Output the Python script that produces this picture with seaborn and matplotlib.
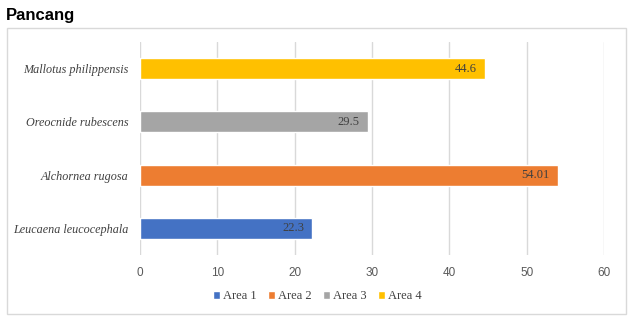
import matplotlib
matplotlib.use("Agg")
import matplotlib.pyplot as plt
import matplotlib.patches as mpatches
import seaborn as sns
import pandas as pd

species = ["Mallotus philippensis", "Oreocnide rubescens", "Alchornea rugosa", "Leucaena leucocephala"]
areas = ["Area 4", "Area 3", "Area 2", "Area 1"]
values = [44.6, 29.5, 54.01, 22.3]
value_labels = ["44.6", "29.5", "54.01", "22.3"]
area_order = ["Area 1", "Area 2", "Area 3", "Area 4"]
area_colors = ["#4472C4", "#ED7D31", "#A5A5A5", "#FFC000"]
x_ticks = [0, 10, 20, 30, 40, 50, 60]

df = pd.DataFrame({"species": species, "area": areas, "value": values})

sns.set_theme(style="white")
plt.rcParams["font.family"] = ["Liberation Serif", "DejaVu Serif"]

fig = plt.figure(figsize=(6.35, 3.28), dpi=100)
ax = fig.add_axes([140/635, 1-255/328, 464/635, 213/328])

sns.barplot(data=df, x="value", y="species", hue="area", hue_order=area_order,
            palette=area_colors, dodge=False, width=0.39, order=species,
            orient="h", ax=ax, saturation=1)

ax.set_xlim(0, 60)
ax.set_xticks(x_ticks)
ax.set_xticklabels([str(t) for t in x_ticks], fontfamily="Liberation Sans",
                   fontsize=8.5, color="#595959")
ax.set_xlabel("")
ax.set_ylabel("")
ax.grid(axis="x", color="#D9D9D9", linewidth=1)
ax.grid(axis="y", visible=False)
ax.set_axisbelow(True)
for s in ax.spines.values():
    s.set_visible(False)
ax.tick_params(axis="x", length=0, pad=9)
ax.tick_params(axis="y", length=0, pad=8)
for lbl in ax.get_yticklabels():
    lbl.set_fontstyle("italic")
    lbl.set_fontsize(8.7)
    lbl.set_color("#404040")
    lbl.set_fontfamily(["Liberation Serif"])

for cont in ax.containers:
    for p in cont.patches:
        w = p.get_width()
        if w is None or w != w or w == 0:
            continue
        yc = p.get_y() + p.get_height() / 2
        idx = [i for i, v in enumerate(values) if abs(v - w) < 1e-9]
        if not idx:
            continue
        ax.annotate(value_labels[idx[0]], xy=(w, yc), xytext=(-6, 0),
                    textcoords="offset points", ha="right", va="center",
                    fontsize=9, color="#404040", fontfamily="Liberation Serif")

handles, labels = ax.get_legend_handles_labels()
if ax.get_legend() is not None:
    ax.get_legend().remove()
fig.legend(handles, labels, loc="center", bbox_to_anchor=(317/635, 1-296/328),
           ncol=4, frameon=False, handlelength=0.6, handleheight=0.6,
           handletextpad=0.2, columnspacing=0.9,
           prop={"family": "Liberation Serif", "size": 9}, labelcolor="#404040")

fig.patches.append(mpatches.Rectangle((7/635, 1-314/328), 619/635, 286/328,
                                      transform=fig.transFigure, fill=False,
                                      edgecolor="#D9D9D9", linewidth=1))

fig.text(6/635, 1-20/328, "Pancang", fontfamily="Liberation Sans",
         fontweight="bold", fontsize=12, color="black", va="baseline", ha="left")

fig.savefig("out.png", dpi=100)
